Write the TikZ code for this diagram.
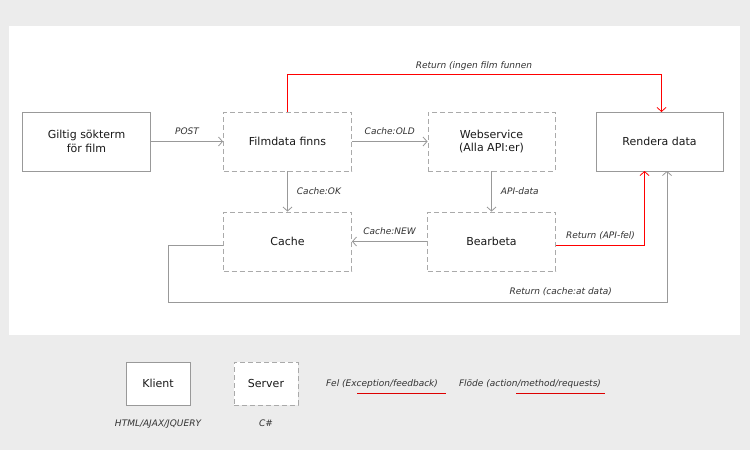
\documentclass[tikz,border=0pt]{standalone}
\usepackage{fontspec}
\setmainfont{DejaVu Sans}
\usetikzlibrary{arrows.meta}
\definecolor{bg}{HTML}{ECECEC}
\definecolor{ln}{HTML}{999999}
\definecolor{dl}{HTML}{AAAAAA}
\definecolor{lbl}{HTML}{333333}
\definecolor{rl}{HTML}{FF0000}
\definecolor{lg}{HTML}{DD0000}
\tikzset{
  box/.style={draw=ln, fill=white, line width=0.9pt, minimum width=128pt, minimum height=59pt, align=center, inner sep=0pt, font=\fontsize{11}{13.5}\selectfont, text=black!90},
  srv/.style={box, draw=dl, dash pattern=on 5pt off 3pt},
  lab/.style={font=\fontsize{9}{11}\selectfont\itshape, text=lbl, inner sep=0pt},
  flow/.style={draw=ln, line width=0.9pt, -{Straight Barb[length=4pt,width=9pt,line width=0.8pt]}},
  err/.style={draw=rl, line width=1pt, -{Straight Barb[length=4pt,width=9pt,line width=0.8pt]}},
}
\begin{document}
\begin{tikzpicture}[x=1pt,y=-1pt]
\fill[bg] (0,0) rectangle (750,450);
\useasboundingbox (0,0) rectangle (750,450);
\fill[white] (9,26) rectangle (740,335);

\node[box] (giltig) at (86.5,141.5) {Giltig sökterm\\för film};
\node[srv] (film) at (287.5,141.5) {Filmdata finns};
\node[srv, minimum width=127pt] (web) at (491.5,141.5) {Webservice\\(Alla API:er)};
\node[box, minimum width=127pt] (rend) at (659.5,141.5) {Rendera data};
\node[srv] (cache) at (287.5,241.5) {Cache};
\node[srv] (bear) at (491.5,241.5) {Bearbeta};

% flows
\draw[flow] (giltig.east) -- node[lab, above=6pt] {POST} (film.west);
\draw[flow] (film.east) -- node[lab, above=6pt] {Cache:OLD} (web.west);
\draw[flow] (film.south) -- node[lab, right=9pt] {Cache:OK} (cache.north);
\draw[flow] (web.south) -- node[lab, right=9pt] {API-data} (bear.north);
\draw[flow] (bear.west) -- node[lab, above=6pt] {Cache:NEW} (cache.west -| cache.east);

% top red return
\coordinate (t0) at (287.5,112);
\coordinate (t1) at (287.5,74.5);
\coordinate (t2) at (661.5,74.5);
\coordinate (t3) at (661.5,112);
\draw[err] (t0) -- (t1) -- (t2) -- (t3);
\node[lab, anchor=base] (tl) at (474,68) {Return (ingen film funnen};

% red API-fel
\coordinate (a0) at (556,245.5);
\coordinate (a1) at (644.5,245.5);
\coordinate (a2) at (644.5,171);
\draw[err] (a0) -- (a1) -- (a2);
\node[lab, anchor=base] (al) at (600.5,238) {Return (API-fel)};

% gray cache return
\coordinate (c1) at (168,245);
\coordinate (c2) at (168,302);
\coordinate (c3) at (667,302);
\coordinate (c4) at (667,171);
\draw[flow] (cache.west |- c1) -- (c1) -- (c2) -- (c3) -- (c4);
\node[lab, anchor=base east] (cl) at (612,294) {Return (cache:at data)};

% legend
\node[box, minimum width=64pt, minimum height=43pt] (klient) at (158,383.5) {Klient};
\node[srv, minimum width=64pt, minimum height=43pt] (server) at (266,383.5) {Server};
\node[lab, anchor=base] (k2) at (158,426) {HTML/AJAX/JQUERY};
\node[lab, anchor=base] (s2) at (266,426) {C\#};
\node[lab, anchor=base] (fel) at (382,386) {Fel (Exception/feedback)};
\node[lab, anchor=base] (flo) at (530,386) {Flöde (action/method/requests)};
\coordinate (f1) at (357,393.5);
\coordinate (f2) at (446,393.5);
\coordinate (g1) at (516,393.5);
\coordinate (g2) at (605,393.5);
\draw[lg, line width=1pt] (f1) -- (f2);
\draw[lg, line width=1pt] (g1) -- (g2);
\end{tikzpicture}
\end{document}
